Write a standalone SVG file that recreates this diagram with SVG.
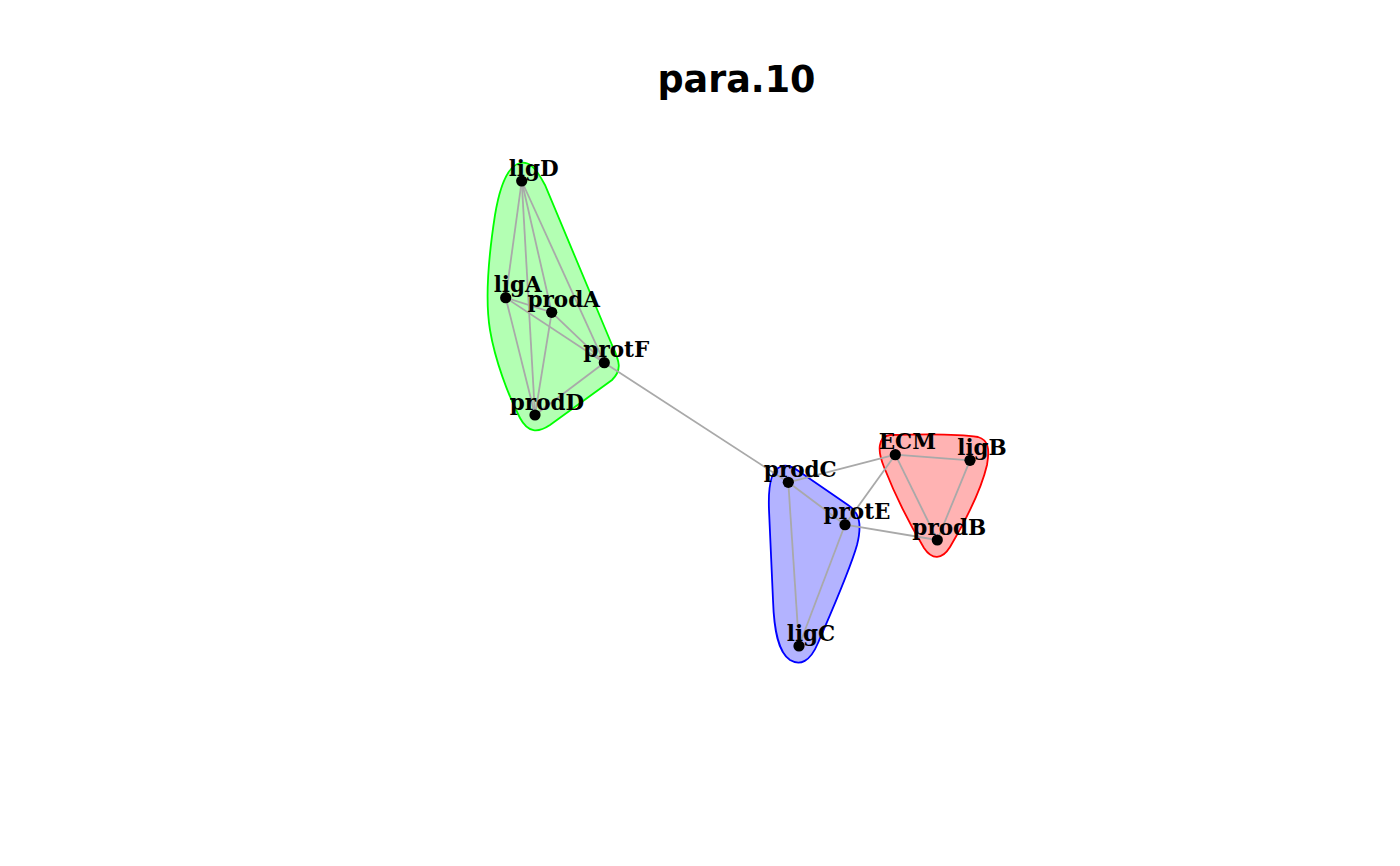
<svg xmlns="http://www.w3.org/2000/svg" width="1400" height="866" viewBox="0 0 1400 866">
<style>
.hull{stroke-width:1.8}
.edge{stroke:#A9A9A9;stroke-width:1.8;fill:none}
.node circle{fill:#000}
.node text{font-family:"DejaVu Serif",serif;font-weight:bold;font-size:21.5px;fill:#000;text-anchor:middle}
.title{font-family:"DejaVu Sans",sans-serif;font-weight:bold;font-size:36.5px;text-anchor:middle;fill:#000}
</style>
<rect width="1400" height="866" fill="#fff"/>
<text class="title" x="736.5" y="92">para.10</text>
<g id="groups">
<path class="hull" fill="#B3FFB3" stroke="#00FF00" d="M 520,163 C 528,161 535,166 545,185 L 612,345 C 620,362 622,370 612,380 L 550,425 C 538,433 528,433 520,418 C 508,395 495,360 490,330 C 485,300 488,260 495,215 C 500,185 508,166 520,163 Z"/>
<path class="hull" fill="#B3B3FF" stroke="#0000FF" d="M 780,467 C 786,464 792,466 800,472 L 848,505 C 860,513 862,525 857,545 C 850,570 830,615 818,643 C 810,662 800,666 790,660 C 778,652 774,630 773,600 L 769,510 C 768,485 772,470 780,467 Z"/>
<path class="hull" fill="#FFB3B3" stroke="#FF0000" d="M 890,435 C 920,434 960,434 978,437 C 988,440 990,448 987,465 C 980,495 960,530 950,547 C 942,560 932,560 924,548 C 912,528 895,495 884,467 C 877,450 878,437 890,435 Z"/>
</g>
<g id="edges" class="edge">
<line x1="521.7" y1="181" x2="505.7" y2="297.7"/>
<line x1="521.7" y1="181" x2="535" y2="415"/>
<line x1="521.7" y1="181" x2="551.7" y2="312.3"/>
<line x1="521.7" y1="181" x2="604.3" y2="362.7"/>
<line x1="505.7" y1="297.7" x2="551.7" y2="312.3"/>
<line x1="505.7" y1="297.7" x2="604.3" y2="362.7"/>
<line x1="505.7" y1="297.7" x2="535" y2="415"/>
<line x1="551.7" y1="312.3" x2="604.3" y2="362.7"/>
<line x1="551.7" y1="312.3" x2="535" y2="415"/>
<line x1="604.3" y1="362.7" x2="535" y2="415"/>
<line x1="604.3" y1="362.7" x2="788.3" y2="482.3"/>
<line x1="788.3" y1="482.3" x2="895.3" y2="454.7"/>
<line x1="788.3" y1="482.3" x2="845" y2="524.7"/>
<line x1="788.3" y1="482.3" x2="799" y2="646"/>
<line x1="845" y1="524.7" x2="799" y2="646"/>
<line x1="845" y1="524.7" x2="895.3" y2="454.7"/>
<line x1="845" y1="524.7" x2="937.3" y2="540"/>
<line x1="895.3" y1="454.7" x2="970" y2="460.3"/>
<line x1="895.3" y1="454.7" x2="937.3" y2="540"/>
<line x1="970" y1="460.3" x2="937.3" y2="540"/>
</g>
<g id="ligD" class="node"><circle cx="521.7" cy="181" r="5.6"/><text x="533.7" y="175.5">ligD</text></g>
<g id="ligA" class="node"><circle cx="505.7" cy="297.7" r="5.6"/><text x="517.7" y="292.2">ligA</text></g>
<g id="prodA" class="node"><circle cx="551.7" cy="312.3" r="5.6"/><text x="563.7" y="306.8">prodA</text></g>
<g id="protF" class="node"><circle cx="604.3" cy="362.7" r="5.6"/><text x="616.3" y="357.2">protF</text></g>
<g id="prodD" class="node"><circle cx="535" cy="415" r="5.6"/><text x="547" y="409.5">prodD</text></g>
<g id="prodC" class="node"><circle cx="788.3" cy="482.3" r="5.6"/><text x="800.3" y="476.8">prodC</text></g>
<g id="protE" class="node"><circle cx="845" cy="524.7" r="5.6"/><text x="857" y="519.2">protE</text></g>
<g id="ligC" class="node"><circle cx="799" cy="646" r="5.6"/><text x="811" y="640.5">ligC</text></g>
<g id="ECM" class="node"><circle cx="895.3" cy="454.7" r="5.6"/><text x="907.3" y="449.2">ECM</text></g>
<g id="ligB" class="node"><circle cx="970" cy="460.3" r="5.6"/><text x="982" y="454.8">ligB</text></g>
<g id="prodB" class="node"><circle cx="937.3" cy="540" r="5.6"/><text x="949.3" y="534.5">prodB</text></g>
</svg>
